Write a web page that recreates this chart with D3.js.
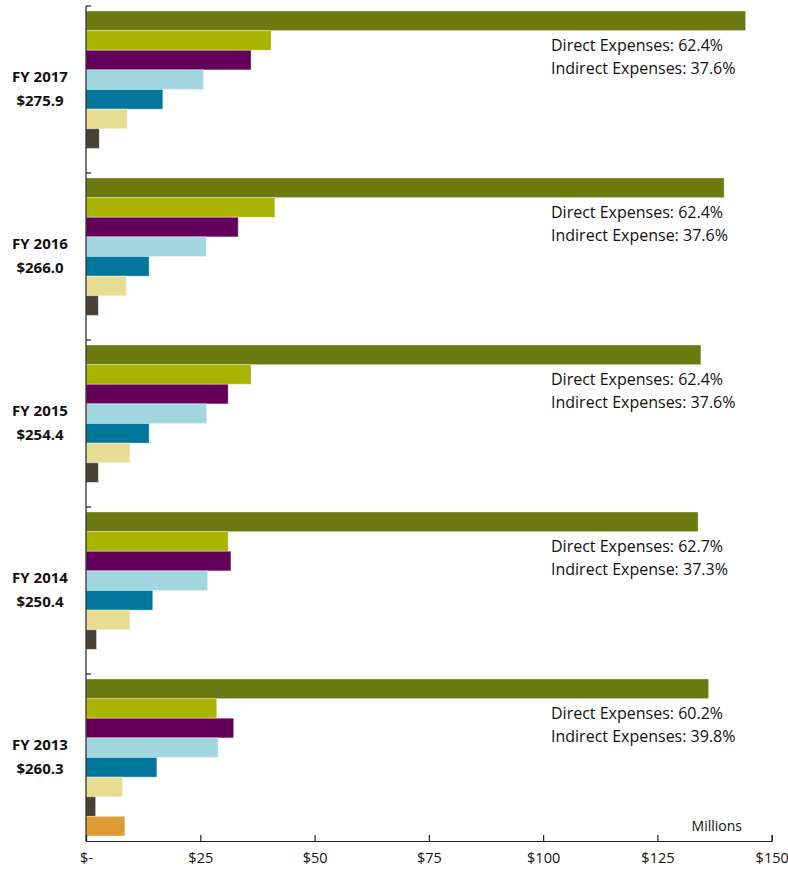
<!DOCTYPE html>
<html>
<head>
<meta charset="utf-8">
<script src="https://cdn.jsdelivr.net/npm/d3@7"></script>
<style>
  body { margin: 0; background: #fff; }
  text { font-family: "Open Sans", "Noto Sans", sans-serif; fill: #111; }
</style>
</head>
<body>
<div id="chart"></div>
<script>
// fiscal years, top to bottom
const years = ["FY 2017", "FY 2016", "FY 2015", "FY 2014", "FY 2013"];
const totals = ["$275.9", "$266.0", "$254.4", "$250.4", "$260.3"];
const directPct = ["Direct Expenses: 62.4%", "Direct Expenses: 62.4%", "Direct Expenses: 62.4%", "Direct Expenses: 62.7%", "Direct Expenses: 60.2%"];
const indirectPct = ["Indirect Expenses: 37.6%", "Indirect Expense: 37.6%", "Indirect Expenses: 37.6%", "Indirect Expense: 37.3%", "Indirect Expenses: 39.8%"];

// one array per series (millions), same order as years
const series1 = [144.3, 139.6, 134.5, 133.9, 136.2];
const series2 = [40.5, 41.3, 36.1, 31.1, 28.6];
const series3 = [36.1, 33.3, 31.1, 31.7, 32.3];
const series4 = [25.7, 26.3, 26.4, 26.6, 28.9];
const series5 = [16.8, 13.8, 13.8, 14.6, 15.5];
const series6 = [9.0, 8.8, 9.6, 9.6, 8.0];
const series7 = [2.9, 2.7, 2.7, 2.3, 2.1];
const series8 = [0, 0, 0, 0, 8.5];

const allSeries = [series1, series2, series3, series4, series5, series6, series7, series8];
const colors = ["#6b7b11", "#a9b400", "#63005a", "#a2d7e0", "#00769a", "#e6dc92", "#474233", "#de9c35"];

const xTicks = [0, 25, 50, 75, 100, 125, 150];

let dimensions = {
  width: 788,
  height: 874,
  margin: { top: 6, right: 16, bottom: 33, left: 86 },
};
dimensions.boundedWidth = dimensions.width - dimensions.margin.left - dimensions.margin.right;
dimensions.boundedHeight = dimensions.height - dimensions.margin.top - dimensions.margin.bottom;

const wrapper = d3.select("#chart")
  .append("svg")
  .attr("width", dimensions.width)
  .attr("height", dimensions.height);

const bounds = wrapper.append("g")
  .attr("transform", `translate(${dimensions.margin.left},${dimensions.margin.top})`);

const x = d3.scaleLinear().domain([0, 150]).range([0, 685.7]);
const y = d3.scaleBand().domain(years).range([0, dimensions.boundedHeight]);
const yInner = d3.scaleBand()
  .domain(d3.range(allSeries.length))
  .range([5, y.bandwidth() - 5]);

// bars
const groups = bounds.selectAll(".grp")
  .data(years)
  .join("g")
  .attr("class", "grp")
  .attr("transform", (d) => `translate(0,${y(d)})`);

groups.selectAll("rect")
  .data((d, i) => allSeries.map((s, k) => ({ k, v: s[i] })).filter((e) => e.v > 0))
  .join("rect")
  .attr("x", 0)
  .attr("y", (d) => yInner(d.k))
  .attr("width", (d) => x(d.v))
  .attr("height", yInner.bandwidth())
  .attr("fill", (d) => colors[d.k])
  .attr("stroke", "rgba(255,255,255,0.35)")
  .attr("stroke-width", 1);

// percentage notes
groups.append("text")
  .attr("x", 465)
  .attr("y", 45)
  .style("font-size", "16px")
  .text((d, i) => directPct[i]);

groups.append("text")
  .attr("x", 465)
  .attr("y", 68)
  .style("font-size", "16px")
  .text((d, i) => indirectPct[i]);

// year labels
groups.append("text")
  .attr("x", -46)
  .attr("y", y.bandwidth() / 2 - 8)
  .attr("text-anchor", "middle")
  .style("font-size", "15px")
  .style("font-weight", "bold")
  .text((d) => d);

groups.append("text")
  .attr("x", -46)
  .attr("y", y.bandwidth() / 2 + 16)
  .attr("text-anchor", "middle")
  .style("font-size", "15px")
  .style("font-weight", "bold")
  .text((d, i) => totals[i]);

// y axis with ticks at group boundaries
bounds.append("line")
  .attr("x1", 0).attr("x2", 0)
  .attr("y1", 0).attr("y2", dimensions.boundedHeight)
  .attr("stroke", "#222").attr("stroke-width", 1.2);

bounds.selectAll(".ytick")
  .data(years)
  .join("line")
  .attr("x1", 0).attr("x2", 5)
  .attr("y1", (d) => y(d)).attr("y2", (d) => y(d))
  .attr("stroke", "#222").attr("stroke-width", 1.2);

// x axis
const xAxisGenerator = d3.axisBottom(x)
  .tickValues(xTicks)
  .tickSize(-6)
  .tickPadding(12)
  .tickFormat((d) => (d === 0 ? "$-" : "$" + d));

const xAxis = bounds.append("g")
  .attr("transform", `translate(0,${dimensions.boundedHeight})`)
  .call(xAxisGenerator);

xAxis.select(".domain").attr("stroke", "#222").attr("stroke-width", 1.2);
xAxis.selectAll(".tick line").attr("stroke", "#222").attr("stroke-width", 1.2);
xAxis.selectAll(".tick text")
  .style("font-size", "14.5px")
  .style("font-family", "'Open Sans', sans-serif")
  .attr("fill", "#111");

bounds.append("text")
  .attr("x", 656)
  .attr("y", dimensions.boundedHeight - 10)
  .attr("text-anchor", "end")
  .style("font-size", "14px")
  .text("Millions");
</script>
</body>
</html>
